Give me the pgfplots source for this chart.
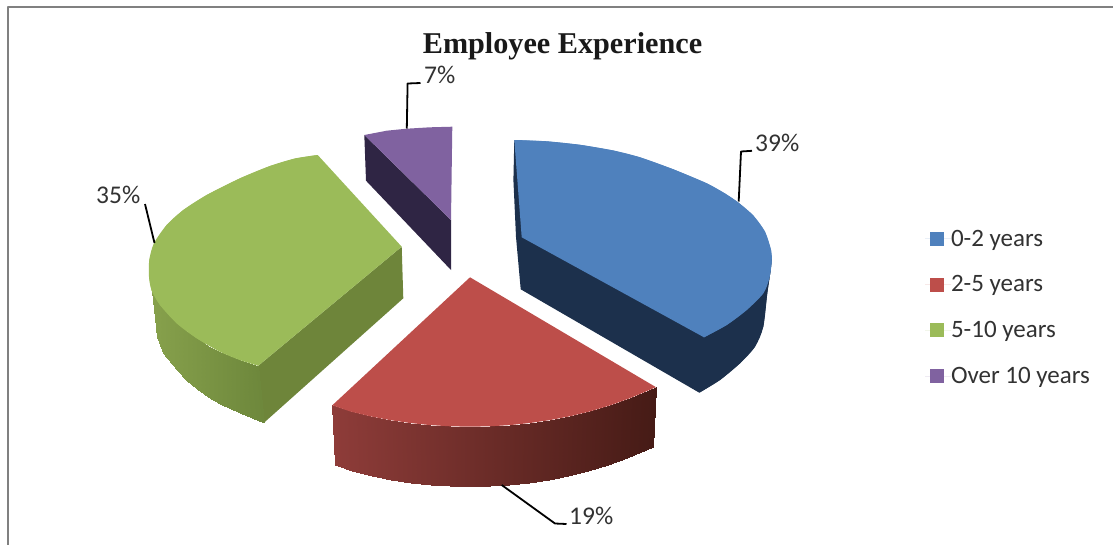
\documentclass[border=0pt]{standalone}
\usepackage{pgfplots}
\pgfplotsset{compat=1.18}
\usepackage{fontspec}
\setmainfont{Carlito}
\newfontfamily\titlefont{Liberation Serif}

\definecolor{blueTop}{RGB}{79,129,189}
\definecolor{blueSide}{RGB}{28,48,76}
\definecolor{redTop}{RGB}{189,78,74}
\definecolor{greenTop}{RGB}{155,187,89}
\definecolor{greenSide}{RGB}{110,133,58}
\definecolor{purpleTop}{RGB}{128,98,160}
\definecolor{purpleSide}{RGB}{47,37,68}
\definecolor{labelText}{RGB}{50,50,50}
\definecolor{frameGray}{RGB}{128,128,128}

\begin{document}
\begin{tikzpicture}[x=1pt,y=1pt]
\useasboundingbox (0,0) rectangle (1113,544);
\begin{axis}[
  at={(0,0)}, anchor=south west,
  scale only axis, width=1113pt, height=544pt,
  xmin=0, xmax=1113, ymin=0, ymax=544,
  y dir=reverse,
  hide axis,
  point meta min=0, point meta max=3,
  % meta 0..1 runs along the red wall, 2..3 along the green wall
  colormap={walls}{
    rgb255(0cm)=(142,60,57)
    rgb255(1cm)=(70,27,22)
    rgb255(2cm)=(135,161,76)
    rgb255(3cm)=(110,136,60)
  },
  legend style={
    at={(axis cs:925,230)}, anchor=north west,
    draw=none, fill=none,
    font=\fontsize{25}{27}\selectfont\color{labelText},
    row sep=28pt, inner sep=0pt, outer sep=0pt,
    legend cell align=left,
    nodes={inner sep=0pt, outer sep=0pt}
  },
  legend image code/.code={
    \fill[#1] (5pt,-7pt) rectangle (19pt,7pt);
    \path (0pt,0pt) -- (26pt,0pt);
  },
  every axis plot/.append style={line join=round},
]

% ---- frame ----
\addplot[forget plot, frameGray, line width=2.4pt, line cap=rect] coordinates {(8.2,544) (8.2,6.9) (1113,6.9)};

% ---- blue slice: wall, then upper face ----
\addplot[forget plot, fill=blueSide, draw=none] coordinates {
  (514.3,140) (513.4,180) (516,237) (520.7,289.3) (699.3,392.7)
  (720,380) (740,363.3) (755,346.7) (763.3,326.7) (767.3,293) (770.7,270) (771.7,258)
  (600,200)
} -- cycle;
\addplot[forget plot, smooth, fill=blueSide, draw=none] coordinates {
  (771.7,258) (770.7,270) (767.3,293) (763.3,326.7) (755,346.7) (740,363.3) (720,380) (699.3,392.7)
};
\addplot[fill=blueTop, draw=none] coordinates {
  (514.3,140) (546.7,141.3) (580,144.8) (613.3,150.5) (640,157.3) (673.3,169.3)
  (706.7,183.3) (725,193.5) (738.3,202.5) (753.3,215.5) (765,231.7) (771,250) (771.7,261.7)
  (769.3,278.3) (763.3,293.3) (746.7,310) (726.7,325) (704,337.3) (521.7,237.3)
} -- cycle;
\addlegendentry{0-2 years}
\addplot[forget plot, smooth, fill=blueTop, draw=none] coordinates {
  (514.3,140) (546.7,141.3) (580,144.8) (613.3,150.5) (640,157.3) (673.3,169.3)
  (706.7,183.3) (725,193.5) (738.3,202.5) (753.3,215.5) (765,231.7) (771,250) (771.7,261.7)
  (769.3,278.3) (763.3,293.3) (746.7,310) (726.7,325) (704,337.3)
};

% ---- red slice ----
\addplot[forget plot, surf, shader=interp, mesh/cols=17, point meta=explicit]
  table[x=x, y=y, meta=c] {
x y c
332.3 405.3 0.000
350.0 411.4 0.055
370.0 416.3 0.117
390.0 420.1 0.179
410.0 423.0 0.241
430.0 425.1 0.302
450.0 426.3 0.364
470.0 426.7 0.426
490.0 426.3 0.488
510.0 425.1 0.549
530.0 423.0 0.611
550.0 420.1 0.673
570.0 416.3 0.735
590.0 411.4 0.796
610.0 405.4 0.858
630.0 398.2 0.920
656.0 387.2 1.000

334.6 465.0 0.000
352.0 470.9 0.055
371.7 475.8 0.117
391.3 479.6 0.179
411.0 482.5 0.241
430.7 484.6 0.302
450.3 485.8 0.364
470.0 486.2 0.426
489.7 485.8 0.488
509.3 484.6 0.549
529.0 482.5 0.611
548.7 479.6 0.673
568.4 475.8 0.735
588.0 470.9 0.796
607.7 464.9 0.858
627.3 457.7 0.920
653.0 446.5 1.000
};
\addplot[fill=redTop, draw=none] coordinates {
  (470,277.3) (656,387.2) (630,398.2) (610,405.4) (590,411.4) (570,416.3)
  (550,420.1) (530,423) (510,425.1) (490,426.3) (470,426.7) (450,426.3)
  (430,425.1) (410,423) (390,420.1) (370,416.3) (350,411.4) (332.3,405.3)
} -- cycle;
\addlegendentry{2-5 years}

% ---- green slice ----
\addplot[forget plot, fill=greenSide, draw=none] coordinates {
  (401.7,246.7) (403.3,298.3) (264,422.7) (258.3,365.7)
} -- cycle;
\addplot[forget plot, surf, shader=interp, mesh/cols=11, point meta=explicit]
  table[x=x, y=y, meta=c] {
x y c
151.7 290.7 2.00
155.0 297.5 2.04
157.3 300.7 2.06
163.3 309.0 2.12
176.7 323.3 2.24
186.0 331.0 2.33
196.7 338.3 2.42
208.0 345.5 2.53
220.0 351.7 2.64
240.0 360.0 2.82
258.3 365.7 3.00

151.7 290.7 2.00
155.0 318.0 2.04
157.3 336.7 2.06
163.3 353.3 2.12
176.7 370.0 2.24
186.0 379.5 2.33
196.7 389.0 2.42
208.0 396.5 2.53
220.0 403.5 2.64
240.0 413.0 2.82
264.0 422.7 3.00
};
\addplot[fill=greenTop, draw=none] coordinates {
  (317.7,155) (295,158.5) (270,166) (240,178.3) (206.7,195) (183.3,210)
  (166.7,225) (154,243.3) (149.3,260) (149,276.7) (151.7,290.7) (160,305)
  (176.7,323.3) (196.7,338.3) (220,351.7) (240,360) (258.3,365.7) (401.7,246.7)
} -- cycle;
\addlegendentry{5-10 years}
\addplot[forget plot, smooth, fill=greenTop, draw=none] coordinates {
  (317.7,155) (295,158.5) (270,166) (240,178.3) (206.7,195) (183.3,210)
  (166.7,225) (154,243.3) (149.3,260) (149,276.7) (151.7,290.7) (160,305)
  (176.7,323.3) (196.7,338.3) (220,351.7) (240,360) (258.3,365.7)
};

% ---- purple slice ----
\addplot[forget plot, fill=purpleSide, draw=none] coordinates {
  (364.3,135) (451,220) (451,270) (366,180.7)
} -- cycle;
\addplot[fill=purpleTop, draw=none] coordinates {
  (364.3,135) (386.7,130.7) (406.7,128.7) (430,127.3) (452.3,126.7) (451,220)
} -- cycle;
\addlegendentry{Over 10 years}

% ---- leader lines ----
\addplot[forget plot, black, line width=1.8pt] coordinates {(738.7,201.5) (741,151.5) (752,150.8)};
\addplot[forget plot, black, line width=1.8pt] coordinates {(406.8,128.5) (407.6,83.5) (420.5,83)};
\addplot[forget plot, black, line width=1.8pt] coordinates {(154.5,243) (145,204)};
\addplot[forget plot, black, line width=1.8pt] coordinates {(501.7,485) (555,523.5) (566.5,524)};

% ---- title and data labels ----
\node[anchor=base, inner sep=0pt, font=\titlefont\bfseries\fontsize{30.2}{32}\selectfont, text=black!90]
  at (axis cs:562.5,53) {Employee Experience};
\begin{scope}[every node/.style={inner sep=0pt, text=labelText, font=\fontsize{25.5}{27}\selectfont}]
\node[anchor=base west] at (axis cs:755,151.5) {39\%};
\node[anchor=base west] at (axis cs:424,83) {7\%};
\node[anchor=base west] at (axis cs:96,203.5) {35\%};
\node[anchor=base west] at (axis cs:569,524) {19\%};
\end{scope}
\end{axis}
\end{tikzpicture}
\end{document}
